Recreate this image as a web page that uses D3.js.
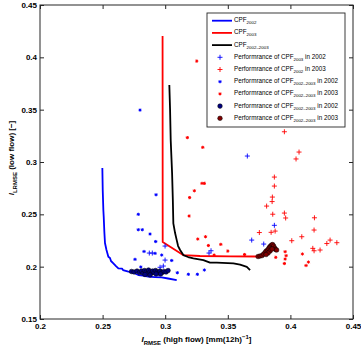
<!DOCTYPE html>
<html>
<head>
<meta charset="utf-8">
<script src="https://cdn.jsdelivr.net/npm/d3@7/dist/d3.min.js"></script>
<style>
  body { margin: 0; background: #fff; }
  text { font-family: "Liberation Sans", Arial, sans-serif; }
</style>
</head>
<body>
<svg id="chart"></svg>
<script>
        // Pareto fronts [I_RMSE high flow, I_LRMSE low flow]
        const cpf2002 = [[0.2498,0.2942],[0.2501,0.2732],[0.2506,0.2541],[0.2509,0.2474],[0.2514,0.2331],
            [0.2519,0.2226],[0.2531,0.2159],[0.2546,0.2095],[0.2559,0.2083],[0.2567,0.2054],[0.2586,0.2032],
            [0.2607,0.2006],[0.2626,0.1984],[0.2655,0.1982],[0.2663,0.1968],[0.2706,0.1952],[0.2743,0.1944],
            [0.2785,0.1920],[0.2823,0.1915],[0.2865,0.1904],[0.2919,0.1901],[0.2972,0.1898],[0.3023,0.1887],
            [0.3092,0.1872]];
        const cpf2003 = [[0.2979,0.4203],[0.2980,0.2235],[0.3143,0.2111],[0.3278,0.2102],[0.3518,0.2099],
            [0.3742,0.2097]];
        const cpf0203 = [[0.3033,0.3735],[0.3039,0.3496],[0.3044,0.3209],[0.3055,0.2894],[0.3061,0.2636],
            [0.3065,0.2414],[0.3079,0.2321],[0.3092,0.2254],[0.3103,0.2197],[0.3119,0.2159],[0.3145,0.2111],
            [0.3183,0.2092],[0.3225,0.2080],[0.3305,0.2063],[0.3358,0.2038],[0.3412,0.2038],[0.3545,0.2032],
            [0.3598,0.2020],[0.3652,0.1999],[0.3678,0.1968]];

        // Performance of CPF2003 in 2002 (blue +)
        const perf2003in2002 = [[0.3656,0.3057],[0.2873,0.2130],[0.2897,0.2130],[0.2999,0.2063],[0.2999,0.2197],
            [0.2985,0.2006],[0.2959,0.1994],[0.3366,0.2152],[0.3350,0.2130],[0.3872,0.2395],[0.3691,0.2254],
            [0.3787,0.2216]];
        // Performance of CPF2002 in 2003 (red +)
        const perf2002in2003 = [[0.3952,0.3289],[0.4069,0.3095],[0.4045,0.3029],[0.3872,0.2856],[0.3872,0.2770],
            [0.3856,0.2665],[0.3854,0.2622],[0.3810,0.2579],[0.3859,0.2501],[0.3952,0.2512],[0.3962,0.2465],
            [0.3878,0.2340],[0.3846,0.2328],[0.3752,0.2326],[0.4011,0.2248],[0.4091,0.2286],[0.4192,0.2467],
            [0.4189,0.2350],[0.4179,0.2175],[0.4189,0.2152],[0.4237,0.2159],[0.4291,0.2221],[0.4317,0.2254],
            [0.4371,0.2229]];
        // Performance of CPF2002-2003 in 2002 (blue *)
        const perf0203in2002 = [[0.2799,0.3496],[0.2927,0.2687],[0.2785,0.2500],[0.2785,0.2353],[0.2817,0.2353],
            [0.2879,0.2312],[0.2924,0.2240],[0.2831,0.2145],[0.2759,0.2070],[0.3052,0.2059],[0.2805,0.1997],
            [0.2972,0.2111],[0.2919,0.2127],[0.3097,0.1942],[0.3185,0.1927],[0.3257,0.1927],[0.3313,0.1968]];
        // Performance of CPF2002-2003 in 2003 (red *)
        const perf0203in2003 = [[0.3252,0.3964],[0.3177,0.3233],[0.3300,0.3140],[0.3294,0.2796],[0.3313,0.2796],
            [0.3233,0.2725],[0.3195,0.2660],[0.3191,0.2484],[0.3260,0.2264],[0.3322,0.2286],[0.3345,0.2202],
            [0.3444,0.2213],[0.3500,0.2149],[0.3391,0.2111],[0.3634,0.2116],[0.3883,0.2089],[0.3958,0.2143],
            [0.3966,0.2105],[0.3958,0.2073],[0.3952,0.2030],[0.4096,0.2121],[0.4144,0.2044],[0.4125,0.2011]];
        // CPF2002-2003 members evaluated in 2002 (navy circles)
        const front0203in2002 = [[0.2731,0.1954],[0.2751,0.1949],[0.2775,0.1958],[0.2795,0.1944],[0.2811,0.1958],
            [0.2823,0.1939],[0.2835,0.1963],[0.2847,0.1949],[0.2859,0.1935],[0.2867,0.1968],[0.2879,0.1949],
            [0.2891,0.1939],[0.2899,0.1958],[0.2911,0.1944],[0.2923,0.1963],[0.2935,0.1949],[0.2947,0.1939],
            [0.2959,0.1958],[0.2975,0.1944],[0.2991,0.1954],[0.3007,0.1949],[0.3023,0.1963],[0.2839,0.1925],
            [0.2879,0.1920],[0.2927,0.1930],[0.2963,0.1930]];
        // CPF2002-2003 members evaluated in 2003 (dark red circles)
        const front0203in2003 = [[0.3742,0.2097],[0.3758,0.2102],[0.3774,0.2106],[0.3786,0.2121],[0.3798,0.2135],
            [0.3806,0.2149],[0.3818,0.2159],[0.3826,0.2173],[0.3834,0.2188],[0.3842,0.2197],[0.3850,0.2207],
            [0.3858,0.2211],[0.3866,0.2197],[0.3874,0.2178],[0.3882,0.2164],[0.3890,0.2159],[0.3838,0.2149],
            [0.3822,0.2130],[0.3806,0.2116],[0.3854,0.2169]];

        const xTicks = [0.2, 0.25, 0.3, 0.35, 0.4, 0.45];
        const yTicks = [0.15, 0.2, 0.25, 0.3, 0.35, 0.4, 0.45];

        // Chart dimensions
        const width = 361, height = 347;
        const margin = { left: 40, right: 8, top: 5, bottom: 28 };
        const innerW = width - margin.left - margin.right;
        const innerH = height - margin.top - margin.bottom;

        const svg = d3.select("#chart")
            .attr("width", width)
            .attr("height", height);

        const g = svg.append("g")
            .attr("transform", `translate(${margin.left}, ${margin.top})`);

        // Scales
        const x = d3.scaleLinear().domain([0.2, 0.45]).range([0, innerW]);
        const y = d3.scaleLinear().domain([0.15, 0.45]).range([innerH, 0]);

        // Axes, ticks pointing inwards on all four sides
        const fmt = d => String(+d.toFixed(2));
        const styleAxis = sel => {
            sel.select(".domain").remove();
            sel.selectAll(".tick line").attr("stroke", "#262626");
            sel.selectAll(".tick text")
                .attr("fill", "#000")
                .style("font-size", "8px")
                .style("font-weight", "bold");
        };

        g.append("g")
            .attr("transform", `translate(0, ${innerH})`)
            .call(d3.axisBottom(x).tickValues(xTicks).tickFormat(fmt).tickSizeInner(-4).tickSizeOuter(0).tickPadding(4))
            .call(styleAxis);
        g.append("g")
            .call(d3.axisLeft(y).tickValues(yTicks).tickFormat(fmt).tickSizeInner(-4).tickSizeOuter(0).tickPadding(3))
            .call(styleAxis);
        g.append("g")
            .call(d3.axisTop(x).tickValues(xTicks).tickFormat("").tickSizeInner(-4).tickSizeOuter(0))
            .call(styleAxis);
        g.append("g")
            .attr("transform", `translate(${innerW}, 0)`)
            .call(d3.axisRight(y).tickValues(yTicks).tickFormat("").tickSizeInner(-4).tickSizeOuter(0))
            .call(styleAxis);

        // Pareto front lines
        const line = d3.line().x(d => x(d[0])).y(d => y(d[1]));
        [[cpf2002, "#0000ff"], [cpf2003, "#ff0000"], [cpf0203, "#000000"]].forEach(([data, c]) => {
            g.append("path")
                .datum(data)
                .attr("fill", "none")
                .attr("stroke", c)
                .attr("stroke-width", 1.8)
                .attr("stroke-linejoin", "round")
                .attr("d", line);
        });

        // Marker shapes
        const plusPath = "M-2.5,0H2.5M0,-2.5V2.5";
        const starPath = "M-1.6,0H1.6M0,-1.6V1.6M-1.1,-1.1L1.1,1.1M-1.1,1.1L1.1,-1.1";

        function drawMarks(data, path, color, w) {
            g.append("g").selectAll("path")
                .data(data)
                .join("path")
                .attr("transform", d => `translate(${x(d[0])}, ${y(d[1])})`)
                .attr("d", path)
                .attr("fill", "none")
                .attr("stroke", color)
                .attr("stroke-width", w);
        }
        function drawCircles(data, color) {
            g.append("g").selectAll("circle")
                .data(data)
                .join("circle")
                .attr("cx", d => x(d[0]))
                .attr("cy", d => y(d[1]))
                .attr("r", 2.3)
                .attr("fill", color)
                .attr("stroke", "#000")
                .attr("stroke-width", 0.5);
        }

        drawMarks(perf2003in2002, plusPath, "#0000ff", 0.9);
        drawMarks(perf2002in2003, plusPath, "#ff0000", 0.9);
        drawMarks(perf0203in2002, starPath, "#0000ff", 1);
        drawMarks(perf0203in2003, starPath, "#ff0000", 1);
        drawCircles(front0203in2002, "#00007f");
        drawCircles(front0203in2003, "#7f0000");

        // Frame
        g.append("rect")
            .attr("width", innerW).attr("height", innerH)
            .attr("fill", "none").attr("stroke", "#262626").attr("stroke-width", 1);

        // Legend
        const legend = svg.append("g");
        legend.append("rect")
            .attr("x", 207).attr("y", 13).attr("width", 138).attr("height", 114)
            .attr("fill", "#fff").attr("stroke", "#262626").attr("stroke-width", 0.9);

        const items = [
            { type: "line", color: "#0000ff", pre: "CPF", sub: "2002", post: "" },
            { type: "line", color: "#ff0000", pre: "CPF", sub: "2003", post: "" },
            { type: "line", color: "#000000", pre: "CPF", sub: "2002\u20132003", post: "" },
            { type: "plus", color: "#0000ff", pre: "Performrance of CPF", sub: "2003", post: " in 2002" },
            { type: "plus", color: "#ff0000", pre: "Performrance of CPF", sub: "2002", post: " in 2003" },
            { type: "star", color: "#0000ff", pre: "Performrance of CPF", sub: "2002\u20132003", post: " in 2002" },
            { type: "star", color: "#ff0000", pre: "Performrance of CPF", sub: "2002\u20132003", post: " in 2003" },
            { type: "circle", color: "#00007f", pre: "Performrance of CPF", sub: "2002\u20132003", post: " in 2002" },
            { type: "circle", color: "#7f0000", pre: "Performrance of CPF", sub: "2002\u20132003", post: " in 2003" }
        ];

        items.forEach((it, i) => {
            const ry = 20.7 + i * 12.2;
            const row = legend.append("g");
            if (it.type === "line") {
                row.append("line").attr("x1", 212).attr("x2", 232).attr("y1", ry).attr("y2", ry)
                    .attr("stroke", it.color).attr("stroke-width", 1.8);
            } else if (it.type === "circle") {
                row.append("circle").attr("cx", 220).attr("cy", ry).attr("r", 2.3)
                    .attr("fill", it.color).attr("stroke", "#000").attr("stroke-width", 0.5);
            } else {
                row.append("path").attr("transform", `translate(220, ${ry})`)
                    .attr("d", it.type === "plus" ? plusPath : starPath)
                    .attr("fill", "none").attr("stroke", it.color)
                    .attr("stroke-width", it.type === "plus" ? 0.9 : 1);
            }
            const t = row.append("text").attr("x", 234).attr("y", ry + 1.5)
                .attr("fill", "#000").style("font-size", "6.3px");
            t.append("tspan").text(it.pre);
            t.append("tspan").attr("dy", 2).style("font-size", "4.4px").text(it.sub);
            if (it.post) t.append("tspan").attr("dy", -2).text(it.post);
        });

        // Axis labels
        const xl = svg.append("text")
            .attr("x", margin.left + innerW / 2).attr("y", 342)
            .attr("text-anchor", "middle").attr("fill", "#000")
            .style("font-size", "8px").style("font-weight", "bold");
        xl.append("tspan").style("font-style", "italic").text("I");
        xl.append("tspan").attr("dy", 2.5).style("font-size", "6px").text("RMSE");
        xl.append("tspan").attr("dy", -2.5).text(" (high flow) [mm(12h)");
        xl.append("tspan").attr("dy", -3).style("font-size", "6px").text("\u22121");
        xl.append("tspan").attr("dy", 3).text("]");

        const yl = svg.append("text")
            .attr("transform", `translate(14, ${margin.top + innerH / 2 - 4}) rotate(-90)`)
            .attr("text-anchor", "middle").attr("fill", "#000")
            .style("font-size", "8px").style("font-weight", "bold");
        yl.append("tspan").style("font-style", "italic").text("I");
        yl.append("tspan").attr("dy", 2.5).style("font-size", "6px").text("LRMSE");
        yl.append("tspan").attr("dy", -2.5).text(" (low flow) [\u2212]");
</script>
</body>
</html>
